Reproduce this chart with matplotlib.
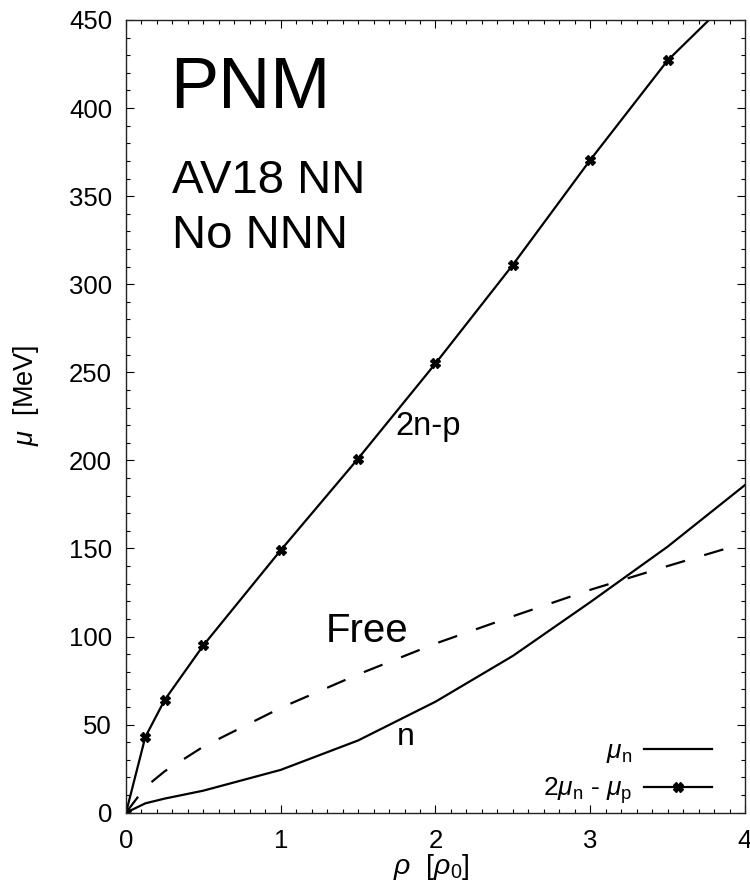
import matplotlib
matplotlib.use("Agg")
import matplotlib.pyplot as plt
from matplotlib.ticker import MultipleLocator

plt.rcParams['font.family'] = ['Liberation Sans', 'DejaVu Sans']
plt.rcParams['mathtext.fontset'] = 'custom'
plt.rcParams['mathtext.rm'] = 'Liberation Sans'
plt.rcParams['mathtext.it'] = 'Liberation Sans:italic'
plt.rcParams['mathtext.bf'] = 'Liberation Sans:bold'
plt.rcParams['lines.scale_dashes'] = False

# Data
rho_n = [0, 0.125, 0.25, 0.5, 1.0, 1.5, 2.0, 2.5, 3.0, 3.5, 4.0]
mu_n = [0, 5.3, 8.0, 12.5, 24.3, 41.0, 63.0, 89.0, 119.5, 151.0, 186.0]

rho_2np = [0, 0.125, 0.25, 0.5, 1.0, 1.5, 2.0, 2.5, 3.0, 3.5, 4.0]
mu_2np = [0, 43.0, 64.0, 95.0, 149.0, 201.0, 255.0, 311.0, 370.5, 427.0, 470.0]

rho_free = [0, 0.125, 0.25, 0.5, 1.0, 1.5, 2.0, 2.5, 3.0, 3.5, 3.9]
mu_free = [0, 14.5, 23.5, 37.5, 59.5, 78.5, 96.0, 111.5, 126.5, 140.0, 150.5]

fig = plt.figure(figsize=(7.5, 8.91), dpi=100)
ax = fig.add_axes([0.168, 0.0879, 0.8253, 0.8897])

ax.plot(rho_n, mu_n, color='black', lw=1.6, label=r'$\mu_{\rm n}$')
ax.plot(rho_2np, mu_2np, color='black', lw=1.6, marker='X', ms=6.5,
        label=r'$2\mu_{\rm n}$ - $\mu_{\rm p}$')
ax.plot(rho_free, mu_free, color='black', lw=1.6, dashes=(14.4, 14.4))

ax.set_xlim(0, 4)
ax.set_ylim(0, 450)
ax.xaxis.set_major_locator(MultipleLocator(1))
ax.xaxis.set_minor_locator(MultipleLocator(0.1))
ax.yaxis.set_major_locator(MultipleLocator(50))
ax.yaxis.set_minor_locator(MultipleLocator(10))
ax.tick_params(which='both', direction='in', top=True, right=True, labelsize=18.5, width=0.8)
ax.tick_params(which='major', length=6)
ax.tick_params(which='minor', length=3)
ax.tick_params(axis='x', which='major', pad=12)
ax.tick_params(axis='y', which='major', pad=10)
for s in ax.spines.values():
    s.set_linewidth(1.0)
    s.set_color('#222222')

ax.set_xlabel(r'$\rho$  [$\rho_0$]', fontsize=20.5)
ax.xaxis.set_label_coords(0.494, -0.049)
ax.set_ylabel(r'$\mu$  [MeV]', fontsize=19.5)
ax.yaxis.set_label_coords(-0.137, 0.527)

ax.text(0.284, 400, 'PNM', fontsize=52, ha='left', va='baseline')
ax.text(0.30, 351.5, 'AV18 NN', fontsize=34, ha='left', va='baseline')
ax.text(0.30, 320.5, 'No NNN', fontsize=34, ha='left', va='baseline')
ax.text(1.29, 97, 'Free', fontsize=29, ha='left', va='baseline')
ax.text(1.74, 214.4, '2n-p', fontsize=23.5, ha='left', va='baseline')
ax.text(1.75, 38.4, 'n', fontsize=23, ha='left', va='baseline')

leg = ax.legend(loc='lower right', frameon=False, markerfirst=False, fontsize=19,
                handlelength=2.58, labelspacing=0.38, borderaxespad=0.0,
                handletextpad=0.45, bbox_to_anchor=(0.9645, -0.005))

fig.savefig('out.png', dpi=100)
